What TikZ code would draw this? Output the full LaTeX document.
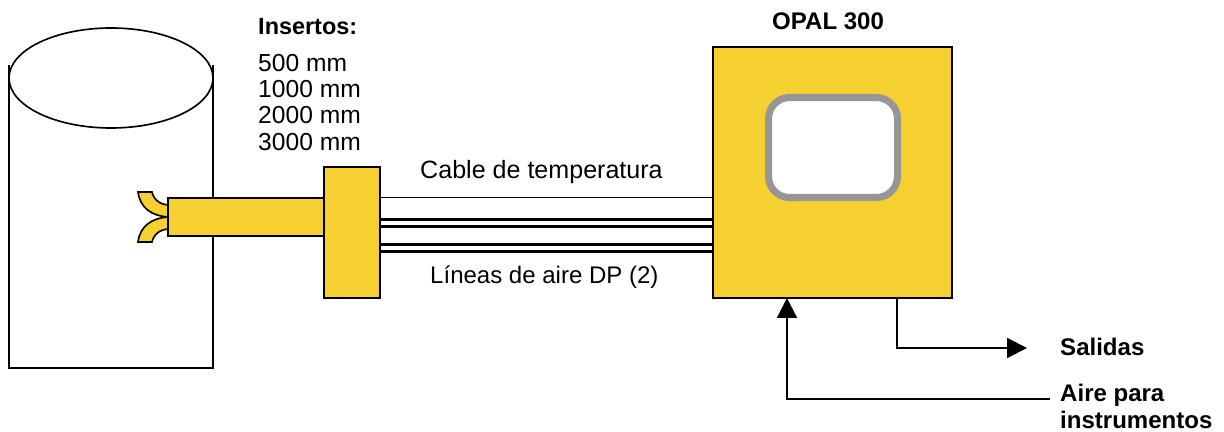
\documentclass[tikz,border=0pt]{standalone}
\usepackage{fontspec}
\setmainfont{Liberation Sans}
\usetikzlibrary{arrows.meta,shapes.geometric}
\definecolor{opalyellow}{RGB}{245,208,48}
\definecolor{screengray}{RGB}{150,150,150}
\tikzset{
  yellowbox/.style={draw=black,fill=opalyellow,line width=1.7pt,rectangle,anchor=north west,inner sep=0pt,outer sep=0pt},
  label/.style={anchor=base west,inner sep=0pt,font=\fontsize{21}{24}\selectfont},
  title/.style={label,font=\fontsize{20.5}{24}\selectfont\bfseries},
  flow/.style={line width=1.7pt,-{Triangle[length=17pt,width=17pt]}},
  horn/.style={draw=black,fill=opalyellow,line width=1.4pt,line join=miter}
}
\begin{document}
\begin{tikzpicture}[x=0.03cm,y=-0.03cm]
\useasboundingbox (0,0) rectangle (1224,432);
% tank
\draw[line width=1.4pt] (9,65) -- (9,368) -- (213,368) -- (213,65);
\node[draw,ellipse,line width=1.4pt,inner sep=0pt,outer sep=0pt,minimum width=204*0.03cm,minimum height=100*0.03cm] (tanktop) at (111,78) {};
% insert
\draw[horn] (168,205) .. controls (154,204) and (152,192) .. (152,192) -- (138,192) .. controls (140,208) and (152,216) .. (168,217) -- cycle;
\draw[horn] (168,229) .. controls (154,230) and (152,242) .. (152,242) -- (138,242) .. controls (140,226) and (152,218) .. (168,217) -- cycle;
\node[yellowbox,minimum width=156*0.03cm,minimum height=38*0.03cm] (probe) at (168,198) {};
\node[yellowbox,minimum width=56*0.03cm,minimum height=131*0.03cm] (flange) at (324,167) {};
\node[yellowbox,minimum width=239*0.03cm,minimum height=251*0.03cm] (opal) at (713,47) {};
\node[draw=screengray,fill=white,line width=6pt,rounded corners=18pt,rectangle,anchor=north west,inner sep=0pt,minimum width=129*0.03cm,minimum height=100*0.03cm] (screen) at (765,94) {};
% lines
\draw[line width=1.7pt] (flange.east |- 0,197.5) -- (opal.west |- 0,197.5);
\draw[line width=2.4pt] (flange.east |- 0,219.5) -- (opal.west |- 0,219.5);
\draw[line width=2.4pt] (flange.east |- 0,226.5) -- (opal.west |- 0,226.5);
\draw[line width=2.4pt] (flange.east |- 0,244.5) -- (opal.west |- 0,244.5);
\draw[line width=2.4pt] (flange.east |- 0,251.5) -- (opal.west |- 0,251.5);
% text
\node[title,font=\fontsize{20}{24}\selectfont\bfseries] (insertos) at (258,35) {Insertos:};
\node[label] (ins500) at (258,72) {500 mm};
\node[label] (ins1000) at (258,98) {1000 mm};
\node[label] (ins2000) at (258,124) {2000 mm};
\node[label] (ins3000) at (258,151) {3000 mm};
\node[title] (opaltitle) at (772,30) {OPAL 300};
\node[label,font=\fontsize{21.4}{24}\selectfont] (cable) at (420,179) {Cable de temperatura};
\node[label,font=\fontsize{20.5}{24}\selectfont] (aire) at (430,284) {Líneas de aire DP (2)};
\node[title] (salidas) at (1060,356) {Salidas};
\node[title] (airepara) at (1060,402) {Aire para};
\node[title] (instrumentos) at (1060,429) {instrumentos};
% connectors
\coordinate (salidaend) at (1027,348);
\coordinate (aireend) at (1050,399);
\draw[flow] (897,298) |- (salidaend);
\draw[flow] (aireend) -| (787,298);
\end{tikzpicture}
\end{document}
